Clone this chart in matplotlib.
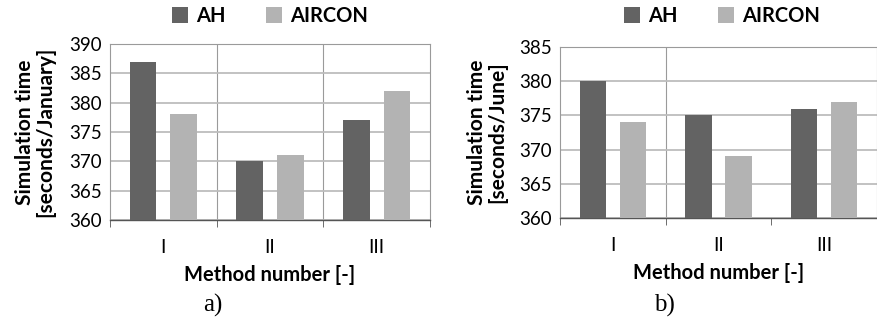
import matplotlib.pyplot as plt
import numpy as np

# simulation times for each calculation method
metodos = ['I', 'II', 'III']
series = ['AH', 'AIRCON']
enero_ah = [387, 370, 377]
enero_aircon = [378, 371, 382]
junio_ah = [380, 375, 376]
junio_aircon = [374, 369, 377]

colores = ['#636363', '#b3b3b3']
plt.rcParams['font.family'] = ['Lato', 'DejaVu Sans']

fig = plt.figure(figsize=(8.77, 3.29), dpi=100)


def panel(rect, ah, aircon, ymin, ymax, ylabel, letra, xletra, lineas_v, xlab):
    ax = fig.add_axes(rect)
    x = np.arange(len(metodos))
    ax.bar(x - 0.19, np.array(ah) - ymin, width=0.25, bottom=ymin,
           color=colores[0], label=series[0], zorder=3)
    ax.bar(x + 0.19, np.array(aircon) - ymin, width=0.25, bottom=ymin,
           color=colores[1], label=series[1], zorder=3)
    ax.set_xlim(-0.5, len(metodos) - 0.5)
    ax.set_ylim(ymin, ymax)
    ax.set_yticks(np.arange(ymin, ymax + 1, 5))
    ax.yaxis.grid(True, color='#bdbdbd', lw=1.3, zorder=0)
    for v in lineas_v:
        ax.axvline(v, color='#9a9a9a', lw=0.8, zorder=0)
    ax.set_xticks(x)
    ax.set_xticklabels(metodos, fontsize=13.5)
    ax.set_xticks(np.arange(-0.5, len(metodos)), minor=True)
    ax.tick_params(axis='x', which='major', length=0, pad=14)
    ax.tick_params(axis='x', which='minor', length=5, color='#555555')
    ax.tick_params(axis='y', length=0, labelsize=13.5, pad=6)
    for s in ['top', 'right', 'left']:
        ax.spines[s].set_color('#9a9a9a')
        ax.spines[s].set_linewidth(0.8)
    ax.spines['bottom'].set_color('#555555')
    ax.spines['bottom'].set_linewidth(1.0)
    ax.set_ylabel(ylabel, fontsize=15, fontweight='bold', linespacing=1.05)
    ax.yaxis.set_label_coords(xlab, 0.5)
    ax.set_xlabel('Method number [-]', fontsize=14.5, fontweight='bold',
                  labelpad=6)
    ax.legend(loc='center', bbox_to_anchor=(xletra + 0.065, 0.951),
              bbox_transform=fig.transFigure, ncol=2,
              frameon=False, prop={'size': 14.5, 'weight': 'bold'},
              handlelength=0.8, handleheight=0.8, handletextpad=0.4,
              columnspacing=2.0, borderaxespad=0)
    fig.text(xletra, 0.073, letra, ha='center', va='center',
             fontsize=18, family='Liberation Serif')
    return ax


panel([0.1254, 0.3313, 0.365, 0.535], enero_ah, enero_aircon, 360, 390,
      'Simulation time\n[seconds/January]', 'a)', 0.243, [0.5, 1.5], -0.17)
panel([0.6385, 0.3374, 0.3615, 0.5197], junio_ah, junio_aircon, 360, 385,
      'Simulation time\n[seconds/June]', 'b)', 0.758, [0.5], -0.165)

fig.savefig('out.png', dpi=100)
